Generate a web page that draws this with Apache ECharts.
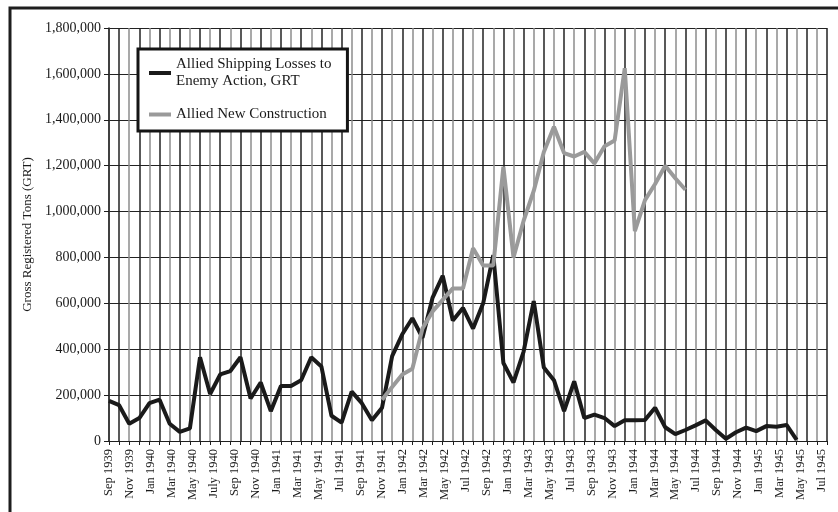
<!DOCTYPE html>
<html>
<head>
<meta charset="utf-8">
<script src="https://cdn.jsdelivr.net/npm/echarts@6/dist/echarts.min.js"></script>
<style>
  html, body { margin: 0; padding: 0; background: #fff; }
  #chart { width: 838px; height: 512px; }
</style>
</head>
<body>
<div id="chart"></div>
<script>
// monthly categories, Sep 1939 .. Aug 1945
var monthNames = ['Jan','Feb','Mar','Apr','May','Jun','Jul','Aug','Sep','Oct','Nov','Dec'];
var months = [];
for (var m = 8; m < 8 + 72; m++) {
  months.push(monthNames[m % 12] + ' ' + (1939 + Math.floor(m / 12)));
}

// tick labels as printed under the axis (Nov 1942 is missing in the original)
var tickLabels = ['Sep 1939','Nov 1939','Jan 1940','Mar 1940','May 1940','July 1940','Sep 1940',
  'Nov 1940','Jan 1941','Mar 1941','May 1941','Jul 1941','Sep 1941','Nov 1941','Jan 1942',
  'Mar 1942','May 1942','Jul 1942','Sep 1942','Jan 1943','Mar 1943','May 1943','Jul 1943',
  'Sep 1943','Nov 1943','Jan 1944','Mar 1944','May 1944','Jul 1944','Sep 1944','Nov 1944',
  'Jan 1945','Mar 1945','May 1945','Jul 1945'];

// Allied shipping losses to enemy action (thousand GRT), Sep 1939 .. May 1945
var losses = [175,156,75,100,165,180,75,40,55,365,205,290,305,365,185,255,130,240,240,265,
  365,325,110,80,215,165,90,145,370,465,535,450,625,720,525,580,490,600,810,340,255,390,
  610,320,265,130,260,100,115,100,65,90,90,92,145,60,30,48,68,90,48,10,38,58,43,65,62,70,5];

// Allied new construction (thousand GRT), Dec 1941 .. Jun 1944
var constructionStart = 'Dec 1941';
var construction = [180,235,290,315,490,565,615,665,665,840,765,765,1195,800,960,1090,1260,
  1370,1255,1240,1260,1210,1285,1310,1625,915,1050,1120,1200,1145,1095];

var lossName = 'Allied Shipping Losses to\nEnemy Action, GRT';
var buildName = 'Allied New Construction';

var serif = '"Liberation Serif", "DejaVu Serif", serif';
var offset = months.indexOf(constructionStart);

var dom = document.getElementById('chart');
var myChart = echarts.init(dom);

var option = {
  animation: false,
  backgroundColor: '#fff',
  graphic: [
    {
      type: 'rect',
      shape: { x: 10, y: 8, width: 860, height: 540 },
      style: { fill: 'none', stroke: '#1e1e1e', lineWidth: 3 },
      silent: true
    }
  ],
  legend: {
    orient: 'vertical',
    left: 138,
    top: 49,
    padding: [7, 16, 8, 11],
    itemGap: 16,
    borderColor: '#151515',
    borderWidth: 3,
    backgroundColor: '#fff',
    icon: 'rect',
    itemWidth: 22,
    itemHeight: 4,
    textStyle: { fontFamily: serif, fontSize: 15, color: '#1a1a1a', lineHeight: 17 },
    data: [lossName, buildName]
  },
  grid: [
    { left: 109, right: 11, top: 28, bottom: 71 },
    { left: 109, right: 16, top: 28, bottom: 71 }
  ],
  xAxis: [
    {
      type: 'category',
      gridIndex: 0,
      data: months,
      boundaryGap: false,
      axisLine: { show: true, lineStyle: { color: '#1e1e1e', width: 1 } },
      axisTick: { show: true, interval: 0, length: 4, lineStyle: { color: '#1e1e1e' } },
      axisLabel: { show: false },
      splitLine: {
        show: true,
        interval: 0,
        lineStyle: { color: ['#8c8c8c', '#222222'], width: 1.5 }
      }
    },
    {
      type: 'category',
      gridIndex: 1,
      data: tickLabels,
      boundaryGap: false,
      axisLine: { show: false },
      axisTick: { show: false },
      splitLine: { show: false },
      axisLabel: {
        interval: 0,
        rotate: 90,
        margin: 8,
        fontFamily: serif,
        fontSize: 12.5,
        color: '#1a1a1a'
      }
    }
  ],
  yAxis: [
    {
      type: 'value',
      gridIndex: 0,
      min: 0,
      max: 1800000,
      interval: 200000,
      name: 'Gross Registered Tons (GRT)',
      nameLocation: 'middle',
      nameGap: 69,
      nameRotate: 90,
      nameTextStyle: { fontFamily: serif, fontSize: 13, color: '#1a1a1a' },
      axisLine: { show: true, lineStyle: { color: '#1e1e1e', width: 1.5 } },
      axisTick: { show: true, length: 5, lineStyle: { color: '#1e1e1e' } },
      axisLabel: {
        margin: 8,
        fontFamily: serif,
        fontSize: 14,
        color: '#1a1a1a',
        formatter: function (v) { return v.toLocaleString('en-US'); }
      },
      splitLine: { show: true, lineStyle: { color: '#222222', width: 1 } }
    },
    { type: 'value', gridIndex: 1, show: false, min: 0, max: 1800000 }
  ],
  series: [
    {
      name: lossName,
      type: 'line',
      xAxisIndex: 0,
      yAxisIndex: 0,
      symbol: 'none',
      color: '#1a1a1a',
      lineStyle: { color: '#1a1a1a', width: 4 },
      data: losses.map(function (v) { return v * 1000; })
    },
    {
      name: buildName,
      type: 'line',
      xAxisIndex: 0,
      yAxisIndex: 0,
      symbol: 'none',
      color: '#9a9a9a',
      lineStyle: { color: '#9a9a9a', width: 4 },
      data: construction.map(function (v, k) { return [months[offset + k], v * 1000]; })
    }
  ]
};

if (option && typeof option === 'object') {
  myChart.setOption(option);
}
</script>
</body>
</html>
